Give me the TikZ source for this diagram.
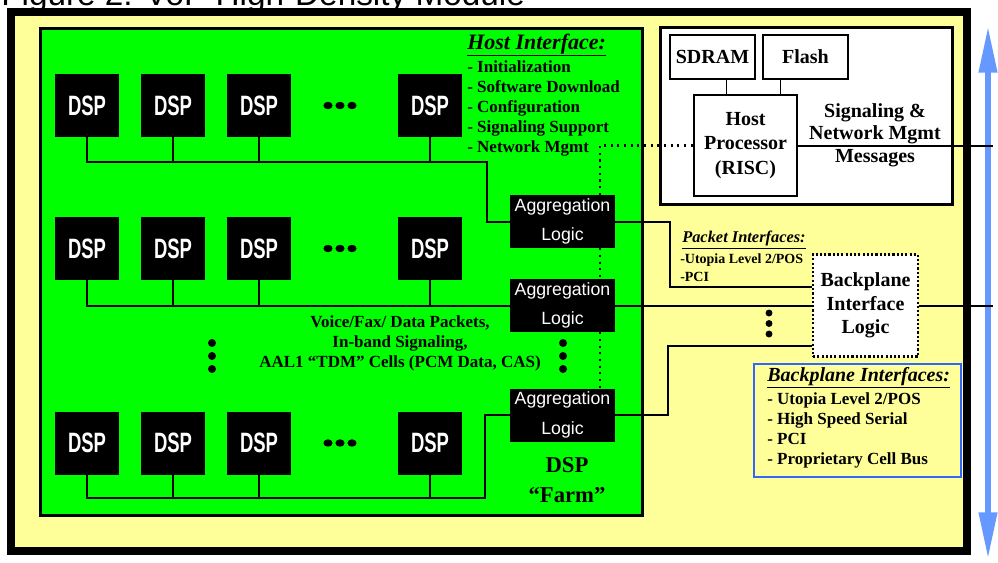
\documentclass[tikz,border=0pt]{standalone}
\usepackage{fontspec}
\setmainfont{Liberation Serif}
\newfontfamily\arialfont{Liberation Sans}
\usetikzlibrary{arrows.meta}

\definecolor{farmgreen}{RGB}{0,255,0}
\definecolor{paneyellow}{RGB}{255,255,153}
\definecolor{busblue}{RGB}{102,153,255}
\definecolor{ifblue}{RGB}{51,102,255}

\tikzset{
  dsp/.style={fill=black, text=white, inner sep=0pt, minimum width=48pt, minimum height=47.25pt,
    font=\arialfont\bfseries\fontsize{21}{21}\selectfont},
  agg/.style={fill=black, text=white, inner sep=0pt, align=center, minimum width=78.75pt, minimum height=39.75pt,
    font=\arialfont\fontsize{13.3}{22}\selectfont},
  membox/.style={draw, line width=1.9pt, fill=white, inner sep=0pt, align=center,
    font=\bfseries\fontsize{15}{18}\selectfont},
  wire/.style={line width=1.5pt},
  dotwire/.style={line width=1.6pt, dash pattern=on 1.6pt off 3.4pt},
  note/.style={inner sep=0pt, font=\bfseries\fontsize{12.75}{15}\selectfont},
  heading/.style={inner sep=0pt, anchor=west, font=\bfseries\itshape\fontsize{16.5}{16.5}\selectfont},
}
\newcommand{\dspname}{\scalebox{0.66}[1]{DSP}}

\begin{document}
\begin{tikzpicture}[x=0.75pt, y=-0.75pt]
  \useasboundingbox (0,0) rectangle (998,562);

  % title, cut by the page
  \node[anchor=base west, inner sep=0pt, font=\arialfont\fontsize{25}{25}\selectfont] (title) at (1,5) {Figure 2: VoP High-Density Module};

  % backplane arrow
  \coordinate (uptip) at (988,26);
  \coordinate (downtip) at (988,559);
  \draw[busblue, line width=4.5pt, {Triangle[length=35pt,width=13pt]}-{Triangle[length=35pt,width=13pt]}] (uptip) -- (downtip);

  % module frame and DSP farm
  \draw[line width=6pt, fill=paneyellow] (11,12) rectangle (967,551);
  \draw[line width=2.25pt, fill=farmgreen] (40,28) rectangle (642,515);

  % host section
  \draw[line width=2.25pt, fill=white] (660,27) rectangle (952,204);
  \node[membox, minimum width=63.75pt, minimum height=33pt] (sdram) at (712.5,57) {SDRAM};
  \node[membox, minimum width=63.75pt, minimum height=33pt] (flash) at (805.5,57) {Flash};
  \node[membox, minimum width=77.25pt, minimum height=75.75pt, font=\bfseries\fontsize{15}{18.4}\selectfont] (hostcpu) at (745.5,145.5) {Host\\Processor\\(RISC)};
  \node[inner sep=0pt, align=center, font=\bfseries\fontsize{15}{17}\selectfont] (sigmsg) at (875,135) {Signaling \&\\Network Mgmt\\Messages};
  \coordinate (sdtap) at (726,0);
  \coordinate (fltap) at (780,0);
  \draw[line width=0.75pt] (sdram.south -| sdtap) -- (hostcpu.north -| sdtap);
  \draw[line width=0.75pt] (flash.south -| fltap) -- (hostcpu.north -| fltap);

  % DSP rows
  \foreach \r/\y in {1/105.5, 2/248.5, 3/443} {
    \foreach \c/\x in {1/87, 2/173, 3/259, 4/430}
      \node[dsp] (d\r\c) at (\x,\y) {\dspname};
    \foreach \x in {328,340,352}
      \fill (\x,\y) ellipse [x radius=3.4pt, y radius=2.8pt];
  }

  % aggregation logic
  \node[agg] (agg1) at (562.5,221.5) {Aggregation\\Logic};
  \node[agg] (agg2) at (562.5,305.5) {Aggregation\\Logic};
  \node[agg] (agg3) at (562.5,415) {Aggregation\\Logic};

  % backplane interface logic
  \node[membox, minimum width=78.75pt, minimum height=76.5pt, dash pattern=on 1.6pt off 1.6pt,
    font=\bfseries\fontsize{15}{17.6}\selectfont] (bpl) at (865.5,305.5) {Backplane\\Interface\\Logic};

  % buses
  \coordinate (turn1) at (487,162);
  \coordinate (turn3) at (485,498);
  \draw[wire] (d11.south) |- (turn1) |- (agg1.west);
  \draw[wire] (d21.south) |- (agg2.west);
  \draw[wire] (d31.south) |- (turn3) |- (agg3.west);
  \foreach \c in {2,3,4} {
    \draw[wire] (d1\c.south) -- (d1\c.south |- turn1);
    \draw[wire] (d2\c.south) -- (d2\c.south |- agg2.west);
    \draw[wire] (d3\c.south) -- (d3\c.south |- turn3);
  }

  % packet paths to the backplane
  \coordinate (pk1) at (670,287);
  \coordinate (pk3) at (668,346);
  \coordinate (edge) at (993,0);
  \draw[wire] (agg1.east) -| (pk1) -- (pk1 -| bpl.west);
  \draw[wire] (agg2.east) -- (bpl.west);
  \draw[wire] (agg3.east) -| (pk3) -- (pk3 -| bpl.west);
  \draw[wire] (bpl.east) -- (bpl.east -| edge);
  \draw[wire] (hostcpu.east) -- (hostcpu.east -| edge);

  % host link (dotted)
  \coordinate (hk) at (600,146);
  \draw[dotwire] (hostcpu.west) -- (hostcpu.west -| hk) -- (agg1.north -| hk);
  \draw[dotwire] (agg1.south -| hk) -- (agg2.north -| hk);
  \draw[dotwire] (agg2.south -| hk) -- (agg3.north -| hk);

  % more rows / more links
  \foreach \y in {343,356,369} {
    \fill (212,\y) circle (3pt);
    \fill (563,\y) circle (3pt);
  }
  \foreach \y in {313,323.5,334}
    \fill (769,\y) circle (2.6pt);

  % labels
  \node[heading] (hostif) at (467,45) {\underline{Host Interface:}};
  \node[note, anchor=west, align=left] (hostlist) at (467,108)
    {- Initialization\\- Software Download\\- Configuration\\- Signaling Support\\- Network Mgmt};
  \node[note, align=center] (payload) at (400,343)
    {Voice/Fax/ Data Packets,\\In-band Signaling,\\AAL1 ``TDM'' Cells (PCM Data, CAS)};
  \node[inner sep=0pt, align=center, font=\bfseries\fontsize{17}{22.5}\selectfont] (farm) at (567,480) {DSP\\``Farm''};

  \node[heading, font=\bfseries\itshape\fontsize{12.3}{12.3}\selectfont] (pkthead) at (682,240) {\underline{Packet Interfaces:}};
  \node[note, anchor=west, align=left, font=\bfseries\fontsize{10.5}{13.5}\selectfont] (pktlist) at (680,268)
    {-Utopia Level 2/POS\\-PCI};

  \node[draw=ifblue, fill=paneyellow, line width=1.9pt, minimum width=155.25pt, minimum height=84.75pt] (bpif) at (857.5,420.5) {};
  \node[heading, font=\bfseries\itshape\fontsize{15}{15}\selectfont] (bphead) at (767,378) {\underline{Backplane Interfaces:}};
  \node[note, anchor=west, align=left, font=\bfseries\fontsize{12.75}{15.2}\selectfont] (bplist) at (767,430.5)
    {- Utopia Level 2/POS\\- High Speed Serial\\- PCI\\- Proprietary Cell Bus};
\end{tikzpicture}
\end{document}
